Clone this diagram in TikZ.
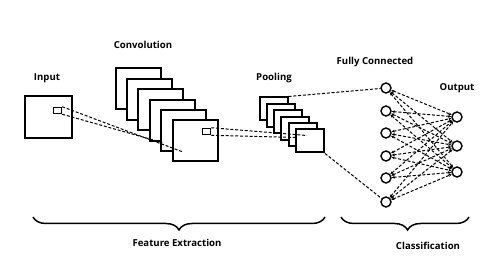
\documentclass[tikz,border=0pt]{standalone}
\usepackage{fontspec}
\setmainfont{Open Sans}
\usepackage{tikz}
\usetikzlibrary{arrows.meta,calc,decorations.pathreplacing,positioning}

\begin{document}
\begin{tikzpicture}[x=1pt,y=-1pt,>={Stealth[length=3.2pt,width=2.8pt]},font=\bfseries\fontsize{9.6}{11}\selectfont,
    frame/.style={draw,line width=2pt,fill=white,inner sep=0pt},
    unit/.style={draw,circle,line width=1.4pt,fill=white,minimum size=10pt,inner sep=0pt},
    link/.style={dashed,dash pattern=on 3pt off 1.8pt,line width=1pt},
    every node/.style={align=center}]
    \useasboundingbox[fill=white] (0,0) rectangle (480,264);
    % input image and receptive field
    \node[frame,minimum width=47pt,minimum height=42pt] (in) at (48,117.5) {};
    \node[frame,line width=1.5pt,minimum width=8pt,minimum height=6pt] (inS) at (57.5,110.5) {};
    % convolution feature maps
    \foreach \i in {1,...,6}
      \node[frame,minimum width=45pt,minimum height=41pt] (conv\i) at ({138+11.4*(\i-1)},{89+10.4*(\i-1)}) {};
    \node[frame,line width=1.5pt,minimum width=8pt,minimum height=6pt] (convS) at (206.5,131.5) {};
    % pooled maps
    \foreach \i in {1,...,6}
      \node[frame,minimum width=28pt,minimum height=23pt] (pool\i) at ({273.5+7.3*(\i-1)},{109+6.4*(\i-1)}) {};
    % fully connected and output layers
    \foreach \y [count=\i] in {88,111,133,156,178,202}
      \node[unit] (fc\i) at (386,\y) {};
    \foreach \y [count=\i] in {117,146,172}
      \node[unit] (out\i) at (457,\y) {};
    \coordinate (cA) at (183,152); \coordinate (cB) at (164,143);
    \coordinate (pA) at (307,135.5); \coordinate (pB) at (296,137.5);
    \draw[link] (inS.north east) -- (cA); \draw[link] (inS.south east) -- (cB);
    \draw[link] (convS.north east) -- (pA); \draw[link] (convS.south east) -- (pB);
    \draw[link] (pool1.north east) -- (fc1); \draw[link] (pool6.south east) -- (fc6);
    \foreach \i in {1,...,6}
      \foreach \j in {1,2,3}
        \draw[link,<->] (fc\i) -- (out\j);
    % labels
    \node at (47,78) {Input};
    \node at (143,45) {Convolution};
    \node at (274,78) {Pooling};
    \node at (375,62) {Fully Connected};
    \node at (457,88) {Output};
    \draw[line width=1.5pt,decorate,decoration={brace,mirror,amplitude=13pt}] (33,217) -- (325,217);
    \draw[line width=1.5pt,decorate,decoration={brace,mirror,amplitude=13pt,aspect=0.52}] (341,217) -- (469,217);
    \node at (177,243) {Feature Extraction};
    \node at (428,246) {Classification};
  \end{tikzpicture}
\end{document}
